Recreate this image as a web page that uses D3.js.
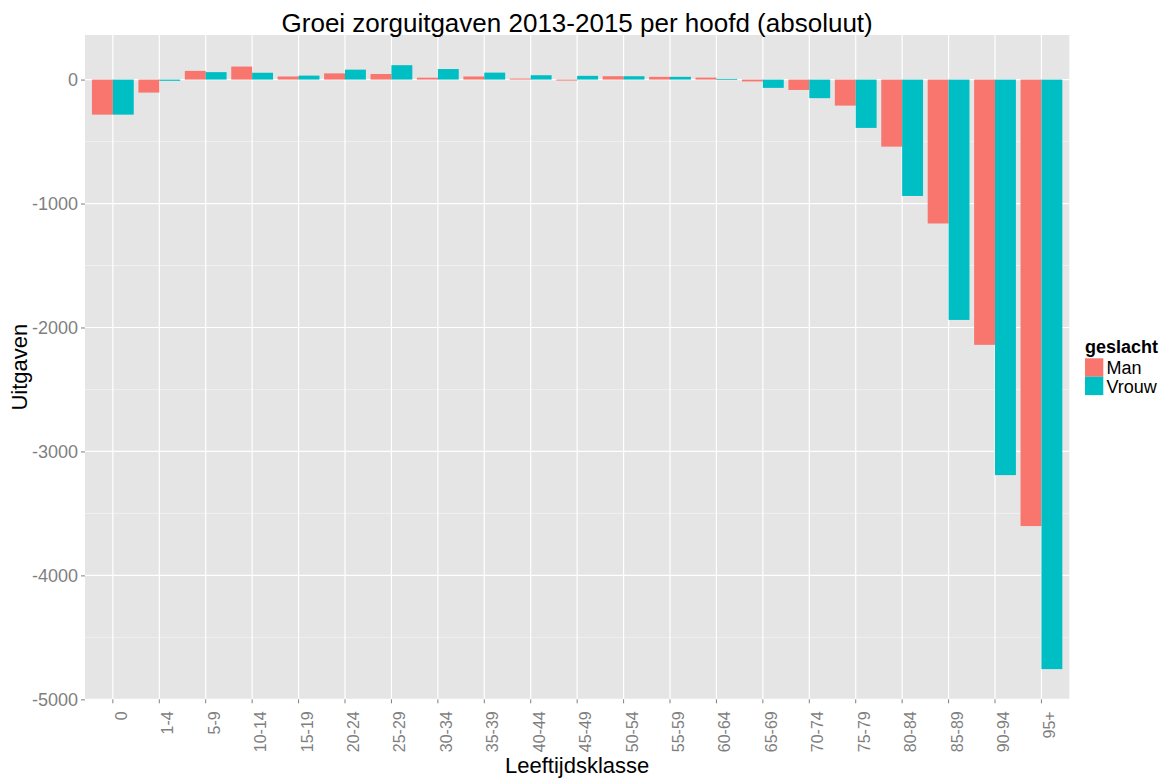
<!DOCTYPE html>
<html>
<head>
<meta charset="utf-8">
<script src="https://cdn.jsdelivr.net/npm/d3@7"></script>
<style>
  body { margin: 0; background: #fff; }
  text { font-family: "Liberation Sans", Arial, sans-serif; }
</style>
</head>
<body>
<div id="chart"></div>
<script>
// data
const ageGroups = ["0", "1-4", "5-9", "10-14", "15-19", "20-24", "25-29", "30-34", "35-39", "40-44",
  "45-49", "50-54", "55-59", "60-64", "65-69", "70-74", "75-79", "80-84", "85-89", "90-94", "95+"]
const genders = ["Man", "Vrouw"]
const manValues = [-283, -105, 70, 105, 25, 50, 45, 15, 25, 8, -8, 27, 22, 16, -15, -84, -210, -541, -1161, -2140, -3602]
const vrouwValues = [-283, -10, 60, 55, 32, 80, 116, 85, 56, 35, 30, 27, 22, 5, -67, -150, -390, -939, -1939, -3191, -4756]
const yTicks = [0, -1000, -2000, -3000, -4000, -5000]
const yMinor = [-500, -1500, -2500, -3500, -4500]
const genderColors = ["#F8766D", "#00BFC4"]

const width = 1161
const height = 778
const panel = { left: 85, right: 1069.3, top: 35, bottom: 699.3 }

const rows = []
ageGroups.forEach(function(a, i) {
  rows.push({ age: a, gender: "Man", value: manValues[i] })
  rows.push({ age: a, gender: "Vrouw", value: vrouwValues[i] })
})

const svg = d3.select("#chart")
              .append("svg")
              .attr("width", width)
              .attr("height", height)

// scales
const xScale = d3.scaleBand()
                 .domain(ageGroups)
                 .range([panel.left, panel.right])
                 .paddingInner(0.1)
                 .paddingOuter(0.15)

const xInner = d3.scaleBand()
                 .domain(genders)
                 .range([0, xScale.bandwidth()])

const ext = d3.extent(rows, d => d.value)
const pad = (ext[1] - ext[0]) * 0.05
const yScale = d3.scaleLinear()
                 .domain([ext[0] - pad, ext[1] + pad])
                 .range([panel.bottom, panel.top])

const color = d3.scaleOrdinal().domain(genders).range(genderColors)

// panel background + grid
svg.append("rect")
   .attr("x", panel.left)
   .attr("y", panel.top)
   .attr("width", panel.right - panel.left)
   .attr("height", panel.bottom - panel.top)
   .attr("fill", "#E5E5E5")

svg.append("g")
   .selectAll("line")
   .data(yMinor)
   .enter()
   .append("line")
   .attr("x1", panel.left)
   .attr("x2", panel.right)
   .attr("y1", d => yScale(d))
   .attr("y2", d => yScale(d))
   .attr("stroke", "#F2F2F2")
   .attr("stroke-width", 0.8)

svg.append("g")
   .selectAll("line")
   .data(yTicks)
   .enter()
   .append("line")
   .attr("x1", panel.left)
   .attr("x2", panel.right)
   .attr("y1", d => yScale(d))
   .attr("y2", d => yScale(d))
   .attr("stroke", "#fff")
   .attr("stroke-width", 1.2)

svg.append("g")
   .selectAll("line")
   .data(ageGroups)
   .enter()
   .append("line")
   .attr("x1", d => xScale(d) + xScale.bandwidth() / 2)
   .attr("x2", d => xScale(d) + xScale.bandwidth() / 2)
   .attr("y1", panel.top)
   .attr("y2", panel.bottom)
   .attr("stroke", "#fff")
   .attr("stroke-width", 1.2)

// bars
svg.append("g")
   .selectAll("rect")
   .data(rows)
   .enter()
   .append("rect")
   .attr("x", d => xScale(d.age) + xInner(d.gender))
   .attr("width", xInner.bandwidth())
   .attr("y", d => yScale(Math.max(0, d.value)))
   .attr("height", d => Math.max(0.8, Math.abs(yScale(d.value) - yScale(0))))
   .attr("fill", d => color(d.gender))

// axes
const yAxis = d3.axisLeft(yScale)
                .tickValues(yTicks)
                .tickFormat(d => String(d))
                .tickSizeOuter(0)
                .tickSizeInner(4)
                .tickPadding(3)

const gy = svg.append("g")
              .attr("transform", `translate(${panel.left},0)`)
              .call(yAxis)
gy.select(".domain").remove()
gy.selectAll("line").attr("stroke", "#7F7F7F")
gy.selectAll("text")
  .attr("fill", "#7F7F7F")
  .style("font-size", "18px")

const xAxis = d3.axisBottom(xScale)
                .tickSizeOuter(0)
                .tickSizeInner(4)

const gx = svg.append("g")
              .attr("transform", `translate(0,${panel.bottom})`)
              .call(xAxis)
gx.select(".domain").remove()
gx.selectAll("line").attr("stroke", "#7F7F7F")
gx.selectAll("text")
  .attr("fill", "#7F7F7F")
  .style("font-size", "16px")
  .attr("text-anchor", "end")
  .attr("dy", null)
  .attr("y", 0)
  .attr("transform", "translate(14,12) rotate(-90)")

// titles
svg.append("text")
   .attr("x", (panel.left + panel.right) / 2)
   .attr("y", 32)
   .attr("text-anchor", "middle")
   .style("font-size", "26px")
   .attr("fill", "#000")
   .text("Groei zorguitgaven 2013-2015 per hoofd (absoluut)")

svg.append("text")
   .attr("x", (panel.left + panel.right) / 2)
   .attr("y", 773)
   .attr("text-anchor", "middle")
   .style("font-size", "22px")
   .attr("fill", "#000")
   .text("Leeftijdsklasse")

svg.append("text")
   .attr("transform", `translate(27,${(panel.top + panel.bottom) / 2}) rotate(-90)`)
   .attr("text-anchor", "middle")
   .style("font-size", "22px")
   .attr("fill", "#000")
   .text("Uitgaven")

// legend
const legend = svg.append("g")
                  .attr("id", "legend")
                  .attr("transform", "translate(1085,353)")

legend.append("text")
      .attr("x", 0)
      .attr("y", 0)
      .style("font-size", "18px")
      .style("font-weight", "bold")
      .text("geslacht")

genders.forEach(function(g, i) {
  legend.append("rect")
        .attr("x", 0)
        .attr("y", 5.3 + i * 18.4)
        .attr("width", 18.3)
        .attr("height", 18.4)
        .attr("fill", color(g))
  legend.append("text")
        .attr("x", 21.5)
        .attr("y", 21.3 + i * 18.4)
        .style("font-size", "18px")
        .text(g)
})
</script>
</body>
</html>
